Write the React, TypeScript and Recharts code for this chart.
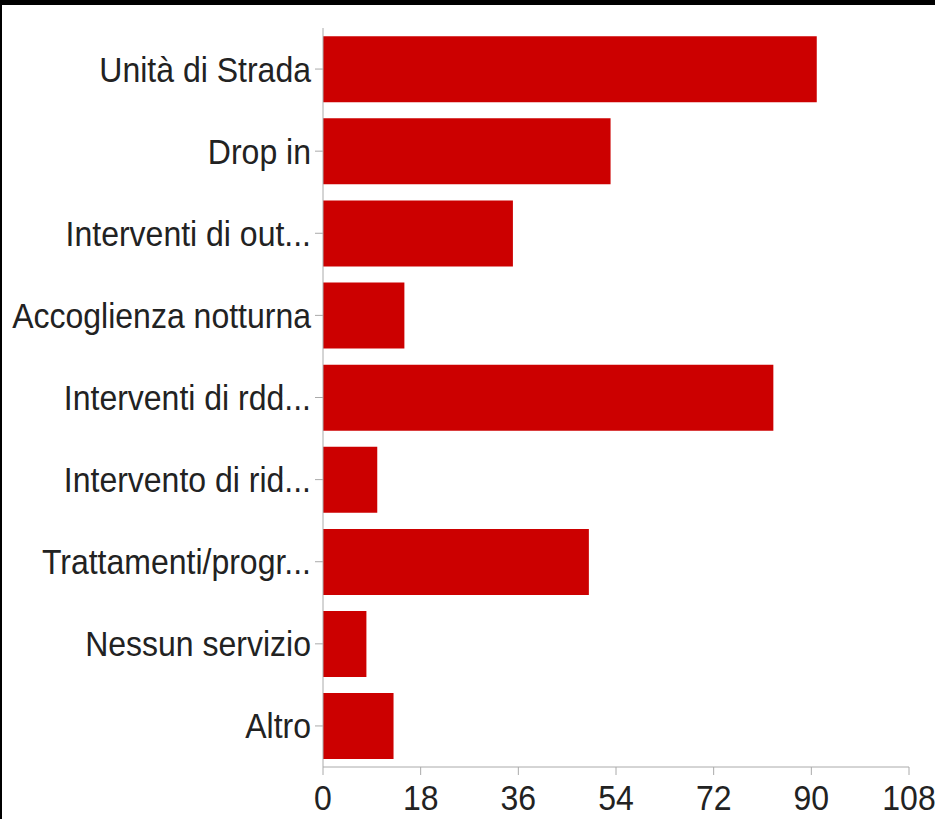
import React from "react";
import { BarChart, Bar, XAxis, YAxis } from "recharts";

const categories = [
  "Unità di Strada",
  "Drop in",
  "Interventi di out...",
  "Accoglienza notturna",
  "Interventi di rdd...",
  "Intervento di rid...",
  "Trattamenti/progr...",
  "Nessun servizio",
  "Altro",
];
const counts = [91, 53, 35, 15, 83, 10, 49, 8, 13];
const xTicks = [0, 18, 36, 54, 72, 90, 108];

const data = categories.map((name, i) => ({ name, value: counts[i] }));

const FONT = "'Liberation Sans', Arial, Helvetica, sans-serif";
const STRETCH = 1.08;

const YTick = (props: any) => {
  const { x, y, payload } = props;
  return (
    <g transform={`translate(${x},${y}) scale(1,${STRETCH})`}>
      <text x={0} y={0} dy="0.36em" textAnchor="end" fontSize={32} fontFamily={FONT} fill="#222">
        {payload.value}
      </text>
    </g>
  );
};

const XTick = (props: any) => {
  const { x, y, payload } = props;
  return (
    <g transform={`translate(${x},${y}) scale(1,${STRETCH})`}>
      <text x={0} y={0} dy="0.72em" textAnchor="middle" fontSize={32} fontFamily={FONT} fill="#222">
        {payload.value}
      </text>
    </g>
  );
};

export default function App() {
  return (
    <div style={{ position: "fixed", left: 0, top: 0, width: 935, height: 819, background: "#000" }}>
      <div style={{ position: "absolute", left: 2, top: 5, width: 933, height: 814, background: "#fff" }} />
      <div style={{ position: "absolute", left: 0, top: 0 }}>
        <BarChart
          width={935}
          height={819}
          data={data}
          layout="vertical"
          margin={{ top: 28, right: 26, bottom: 0, left: 0 }}
          barCategoryGap="10%"
        >
          <XAxis
            type="number"
            domain={[0, 108]}
            ticks={xTicks}
            interval={0}
            height={52}
            tickSize={8}
            tickMargin={10}
            stroke="#aaa"
            tick={<XTick />}
          />
          <YAxis
            type="category"
            dataKey="name"
            width={323}
            interval={0}
            tickSize={8}
            tickMargin={4}
            stroke="#aaa"
            tick={<YTick />}
          />
          <Bar dataKey="value" fill="#cc0000" isAnimationActive={false} />
        </BarChart>
      </div>
    </div>
  );
}
